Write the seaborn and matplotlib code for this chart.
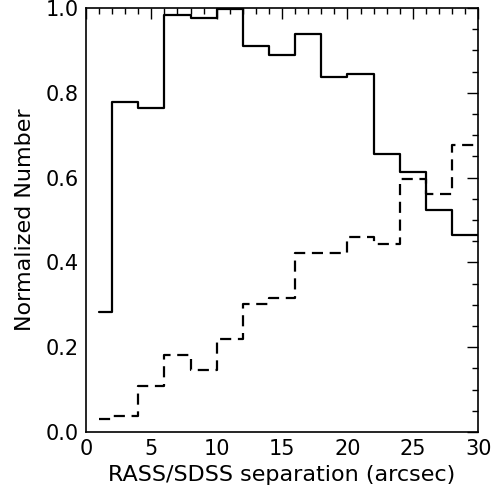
import numpy as np
import pandas as pd
import seaborn as sns
import matplotlib.pyplot as plt
from matplotlib.ticker import MultipleLocator

# bin edges (arcsec) and normalized heights
edges = [1, 2, 4, 6, 8, 10, 12, 14, 16, 18, 20, 22, 24, 26, 28, 30]
solid = [0.284, 0.779, 0.765, 0.983, 0.976, 0.998, 0.910, 0.888,
         0.939, 0.837, 0.845, 0.655, 0.612, 0.524, 0.465]
dashed = [0.030, 0.038, 0.109, 0.182, 0.146, 0.219, 0.301, 0.315,
          0.423, 0.423, 0.459, 0.444, 0.597, 0.562, 0.677]

centers = [(a + b) / 2 for a, b in zip(edges[:-1], edges[1:])]
df = pd.DataFrame({'sep': centers, 'solid': solid, 'dashed': dashed})

sns.set_style('white')
plt.rcParams['font.family'] = ['DejaVu Sans']
plt.rcParams['text.color'] = 'black'
plt.rcParams['axes.labelcolor'] = 'black'
plt.rcParams['xtick.color'] = 'black'
plt.rcParams['ytick.color'] = 'black'

fig = plt.figure(figsize=(4.91, 4.98), dpi=100)
ax = fig.add_axes([0.175, 0.1325, 0.799, 0.8515])

sns.histplot(data=df, x='sep', weights='solid', bins=edges, element='step',
             fill=False, color='black', linewidth=1.6, ax=ax)
sns.histplot(data=df, x='sep', weights='dashed', bins=edges, element='step',
             fill=False, color='black', linewidth=1.6, linestyle=(0, (5, 3)), ax=ax)

ax.set_xlim(0, 30)
ax.set_ylim(0, 1.0)
ax.xaxis.set_major_locator(MultipleLocator(5))
ax.xaxis.set_minor_locator(MultipleLocator(1))
ax.yaxis.set_major_locator(MultipleLocator(0.2))
ax.yaxis.set_minor_locator(MultipleLocator(0.05))
ax.set_yticklabels([f'{v:.1f}' for v in ax.get_yticks()])
ax.tick_params(which='both', direction='in', top=True, right=True,
               labelsize=15, pad=5)
ax.tick_params(which='major', length=8, width=1)
ax.tick_params(which='minor', length=4, width=1)
for s in ax.spines.values():
    s.set_color('black')
    s.set_linewidth(1.2)

ax.set_xlabel('RASS/SDSS separation (arcsec)', fontsize=16, labelpad=4)
ax.set_ylabel('Normalized Number', fontsize=16, labelpad=8)

fig.savefig('out.png', dpi=100)
